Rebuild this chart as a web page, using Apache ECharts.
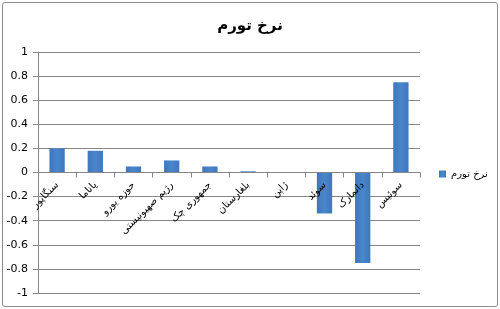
<!DOCTYPE html>
<html><head><meta charset="utf-8">
<script src="https://cdn.jsdelivr.net/npm/echarts@6/dist/echarts.min.js"></script>
<style>html,body{margin:0;padding:0;background:#fff}#c{position:absolute;left:2px;top:2px;width:494px;height:303px;border:1px solid #8c8c8c;border-radius:3px}</style>
</head><body><div id="c"></div>
<script>
const categories = ["سنگاپور","پاناما","حوزه یورو","رژیم صهیونیستی","جمهوری چک","بلغارستان","ژاپن","سوئد","دانمارک","سوئیس"];
const values = [0.2, 0.18, 0.05, 0.1, 0.05, 0.01, 0, -0.34, -0.75, 0.75];
const seriesName = "نرخ تورم";
const chart = echarts.init(document.getElementById('c'));
chart.setOption({
  animation:false,
  textStyle:{fontFamily:"DejaVu Sans"},
  title:{text:"نرخ تورم", left:'center', top:11, textStyle:{fontSize:15,fontWeight:'bold',color:'#000',fontFamily:"DejaVu Sans"}},
  legend:{data:[seriesName], left:431, top:161, orient:'vertical', itemWidth:7, itemHeight:7, itemGap:4, textStyle:{fontSize:10,color:'#000'}, icon:'rect'},
  grid:{left:35, right:77, top:49, bottom:13, outerBoundsMode:'none'},
  xAxis:{type:'category', data:categories, position:'bottom', offset:-120.5, z:5,
    axisLine:{onZero:false, lineStyle:{color:'#868686'}},
    axisTick:{show:true, length:5, lineStyle:{color:'#868686'}},
    axisLabel:{rotate:45, fontSize:10, color:'#000', margin:11, interval:0}},
  yAxis:{type:'value', min:-1, max:1, interval:0.2,
    axisLine:{show:true, lineStyle:{color:'#868686'}},
    axisTick:{show:true, length:5, lineStyle:{color:'#868686'}},
    axisLabel:{fontSize:11, color:'#000', margin:10, formatter:v=>String(Math.round(v*10)/10)},
    splitLine:{lineStyle:{color:'#868686'}}},
  series:[{name:seriesName, type:'bar', data:values, barWidth:'40%', z:2,
    itemStyle:{color:new echarts.graphic.LinearGradient(0,0,1,0,[{offset:0,color:'#3d77bf'},{offset:0.5,color:'#4a86cc'},{offset:1,color:'#3d77bf'}])}}]
});
</script></body></html>
